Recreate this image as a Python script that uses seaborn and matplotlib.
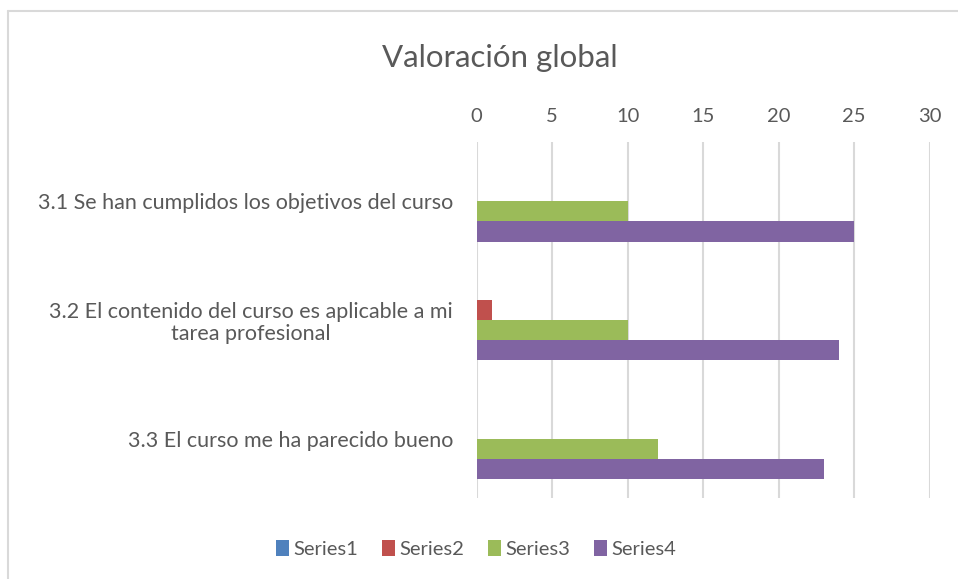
import matplotlib
matplotlib.use("Agg")
import matplotlib.pyplot as plt
import seaborn as sns
import pandas as pd
from matplotlib.lines import Line2D
from matplotlib.patches import Patch

categories = [
    "3.1 Se han cumplidos los objetivos del curso",
    "3.2 El contenido del curso es aplicable a mi\ntarea profesional",
    "3.3 El curso me ha parecido bueno",
]
series_names = ["Series1", "Series2", "Series3", "Series4"]
series1 = [0, 0, 0]
series2 = [0, 1, 0]
series3 = [10, 10, 12]
series4 = [25, 24, 23]
colors = ["#4F81BD", "#C0504D", "#9BBB59", "#8064A2"]
title = "Valoración global"
xticks = [0, 5, 10, 15, 20, 25, 30]

rows = []
for name, vals in zip(series_names, [series1, series2, series3, series4]):
    for c, v in zip(categories, vals):
        rows.append({"cat": c, "series": name, "value": v})
df = pd.DataFrame(rows)

sns.set_theme(style="white")
plt.rcParams["font.family"] = ["Lato", "DejaVu Sans"]

fig = plt.figure(figsize=(9.58, 5.79), dpi=100)
ax = fig.add_axes([0.4976, 0.1399, 0.4729, 0.6149])

sns.barplot(data=df, y="cat", x="value", hue="series", hue_order=series_names,
            order=categories, palette=colors, width=0.68, orient="h",
            linewidth=0, saturation=1, ax=ax, legend=False)

ax.set_xlim(0, 30)
ax.set_xticks(xticks)
ax.xaxis.tick_top()
ax.tick_params(axis="x", length=0, labelsize=14.5, labelcolor="#595959", pad=12)
ax.tick_params(axis="y", length=0, labelsize=15.5, labelcolor="#595959", pad=17)
for lab in ax.get_yticklabels():
    lab.set_multialignment("center")
    lab.set_linespacing(1.15)
ax.set_xlabel("")
ax.set_ylabel("")
ax.grid(axis="x", color="#D9D9D9", linewidth=1.5)
ax.set_axisbelow(True)
for s in ax.spines.values():
    s.set_visible(False)

fig.text(0.522, 0.90, title, ha="center", va="center", fontsize=22.5, color="#595959")

handles = [Patch(facecolor=c, edgecolor="none") for c in colors]
fig.legend(handles, series_names, loc="center", bbox_to_anchor=(0.497, 0.052), ncol=4,
           frameon=False, fontsize=14.5, handlelength=0.65, handleheight=0.9,
           handletextpad=0.2, columnspacing=1.2, labelcolor="#595959")

fig.add_artist(Line2D([8/958, 1], [1 - 10.5/579, 1 - 10.5/579], color="#D9D9D9", lw=1.5, transform=fig.transFigure))
fig.add_artist(Line2D([8/958, 8/958], [0, 1 - 10.5/579], color="#D9D9D9", lw=1.5, transform=fig.transFigure))

fig.savefig("out.png", dpi=100)
